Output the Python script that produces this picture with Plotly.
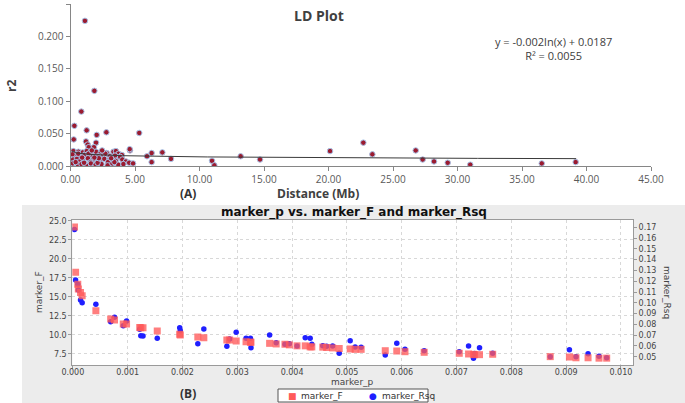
import numpy as np
import plotly.graph_objects as go

W, H = 685, 403

# ---------- Panel A data (LD plot) ----------
dist_mb = [1.12, 1.85, 0.84, 0.30, 0.25, 1.25, 2.03, 2.78, 5.33, 1.20, 1.33, 1.98, 1.82, 1.41,
           4.61, 4.59, 6.29, 7.12, 5.93, 7.79, 6.29, 10.97, 11.15, 13.19, 14.69, 20.12, 22.70,
           23.40, 26.76, 27.30, 28.18, 29.24, 30.99, 36.53, 39.16,
           0.22, 0.61, 0.95, 1.26, 1.52, 1.98, 2.35, 2.81, 3.33, 3.52, 3.72, 3.98,
           0.35, 0.75, 1.10, 1.62, 2.15, 2.55, 3.05, 3.45, 3.85, 0.15, 1.40, 2.70,
           0.20, 0.50, 0.98, 1.35, 1.75, 2.25, 2.62, 3.00, 3.50, 4.02, 4.30, 1.55, 0.70, 2.90,
           0.18, 0.58, 0.85, 1.20, 1.58, 1.95, 2.40, 2.88, 3.25, 3.70, 4.10, 4.55, 4.85, 1.05,
           2.10, 3.40, 0.40, 2.20, 1.85, 0.90, 3.15, 0.60, 2.45, 1.65]
r2 = [0.224, 0.116, 0.084, 0.062, 0.041, 0.055, 0.048, 0.052, 0.051, 0.038, 0.033, 0.036, 0.029, 0.029,
      0.024, 0.026, 0.020, 0.021, 0.015, 0.011, 0.006, 0.008, 0.001, 0.015, 0.010, 0.023, 0.036,
      0.018, 0.024, 0.010, 0.007, 0.005, 0.002, 0.004, 0.006,
      0.023, 0.022, 0.021, 0.023, 0.020, 0.022, 0.021, 0.020, 0.022, 0.023, 0.019, 0.017,
      0.016, 0.015, 0.017, 0.016, 0.015, 0.017, 0.015, 0.016, 0.014, 0.018, 0.019, 0.019,
      0.010, 0.011, 0.009, 0.012, 0.010, 0.008, 0.011, 0.009, 0.008, 0.010, 0.007, 0.006, 0.007, 0.006,
      0.004, 0.002, 0.003, 0.001, 0.004, 0.002, 0.003, 0.001, 0.004, 0.002, 0.003, 0.005, 0.004, 0.005,
      0.005, 0.006, 0.006, 0.012, 0.013, 0.013, 0.012, 0.019, 0.024, 0.024]
trend_a, trend_b = -0.002, 0.0187
trend_range = [0.12, 39.2]
x_ticks_a = [0, 45, 5]
y_ticks_a = [0, 0.25, 0.05]

# ---------- Panel B data ----------
marker_p = [0.00003, 0.00005, 0.00009, 0.00010, 0.00014, 0.00017, 0.00042, 0.00069, 0.00076, 0.00092,
            0.00098, 0.00122, 0.00124, 0.00128, 0.00154, 0.00195, 0.00196, 0.00228, 0.00239, 0.00281,
            0.00286, 0.00298, 0.00316, 0.00324, 0.00325, 0.00359, 0.00371, 0.00387, 0.00395, 0.00409,
            0.00424, 0.00433, 0.00436, 0.00456, 0.00463, 0.00474, 0.00486, 0.00506, 0.00515, 0.00526,
            0.00570, 0.00591, 0.00606, 0.00641, 0.00705, 0.00722, 0.00731, 0.00733, 0.00742, 0.00766,
            0.00871, 0.00906, 0.00918, 0.00940, 0.00960, 0.00974]
marker_F = [24.2, 18.25, 16.67, 16.05, 15.6, 15.17, 13.2, 12.1, 11.97, 11.45,
            11.45, 11.0, 10.95, 10.96, 10.53, 10.1, 10.0, 9.72, 9.65, 9.34,
            9.34, 9.22, 9.12, 9.04, 9.05, 8.9, 8.82, 8.78, 8.7, 8.57,
            8.57, 8.43, 8.43, 8.4, 8.35, 8.3, 8.22, 8.16, 8.11, 8.11,
            7.93, 7.89, 7.8, 7.72, 7.59, 7.5, 7.45, 7.41, 7.41, 7.46,
            7.15, 7.1, 7.0, 7.0, 6.95, 6.95]
marker_Rsq = [0.168, 0.1212, 0.1172, 0.1119, 0.1026, 0.1001, 0.0986, 0.0825, 0.0866, 0.0788,
              0.0831, 0.0754, 0.0695, 0.0692, 0.0671, 0.0769, 0.0741, 0.0621, 0.0757, 0.0596,
              0.0664, 0.0727, 0.0671, 0.0671, 0.0584, 0.0701, 0.0630, 0.0615, 0.0621, 0.0600,
              0.0676, 0.0671, 0.0615, 0.0602, 0.0598, 0.0599, 0.0532, 0.0649, 0.0590, 0.0588,
              0.0516, 0.0624, 0.0568, 0.0556, 0.0546, 0.0599, 0.0485, 0.0530, 0.0584, 0.0532,
              0.0500, 0.0565, 0.0500, 0.0528, 0.0504, 0.0490]

F_COLOR = "rgba(255,90,90,0.78)"
RSQ_COLOR = "#1f1fff"

# ---------- layout helpers ----------
def px_x(v):
    return v / W

def px_y(v):
    return 1 - v / H

A_x = [px_x(70.5), px_x(651)]
A_y = [px_y(166), px_y(4)]
B_x = [px_x(72.3), px_x(633)]
B_y = [px_y(365), px_y(220)]

fig = go.Figure()

fig.add_trace(go.Scatter(
    x=dist_mb, y=r2, mode="markers", xaxis="x", yaxis="y", showlegend=False,
    marker=dict(size=5.5, color="#9b1b30", line=dict(color="#a9c4e8", width=1)),
))
tx = np.linspace(trend_range[0], trend_range[1], 400)
fig.add_trace(go.Scatter(
    x=tx, y=trend_a * np.log(tx) + trend_b, mode="lines", xaxis="x", yaxis="y",
    showlegend=False, line=dict(color="#3a3a3a", width=1),
))

fig.add_trace(go.Scatter(
    x=marker_p, y=marker_Rsq, mode="markers", name="marker_Rsq", xaxis="x2", yaxis="y2",
    showlegend=False, marker=dict(symbol="circle", size=5.5, color=RSQ_COLOR),
))
fig.add_trace(go.Scatter(
    x=marker_p, y=marker_F, mode="markers", name="marker_F", xaxis="x2", yaxis="y3",
    showlegend=False, marker=dict(symbol="square", size=7, color=F_COLOR),
))

tickfA = dict(family="Open Sans", size=10, color="#595959")
tickfB = dict(family="DejaVu Sans", size=8, color="#444444")

fig.update_layout(
    width=W, height=H,
    margin=dict(l=0, r=0, t=0, b=0, autoexpand=False),
    paper_bgcolor="white", plot_bgcolor="white",
    showlegend=False,
    xaxis=dict(domain=A_x, anchor="y", range=[x_ticks_a[0], x_ticks_a[1]], dtick=x_ticks_a[2],
               tick0=0, tickformat=".2f", showgrid=False, zeroline=False, showline=True,
               linecolor="#868686", linewidth=1, ticks="outside", ticklen=4, tickcolor="#868686",
               tickfont=tickfA, automargin=False),
    yaxis=dict(domain=A_y, anchor="x", range=[y_ticks_a[0], y_ticks_a[1]], dtick=y_ticks_a[2],
               tick0=0, tickformat=".3f", showgrid=False, zeroline=False, showline=True,
               linecolor="#868686", linewidth=1, ticks="outside", ticklen=4, tickcolor="#868686",
               tickfont=tickfA, automargin=False),
    xaxis2=dict(domain=B_x, anchor="y2", range=[-0.00001, 0.01022], dtick=0.001, tick0=0,
                tickformat=".3f", showgrid=True, gridcolor="#d8d8d8", griddash="dot", gridwidth=1,
                zeroline=False, showline=True, mirror=True, linecolor="#9a9a9a", linewidth=1,
                ticks="outside", ticklen=3, tickcolor="#9a9a9a", tickfont=tickfB, automargin=False,
                ticklabelstandoff=-4),
    yaxis2=dict(domain=B_y, anchor="x2", side="right", range=[0.0423, 0.1768], dtick=0.01,
                tick0=0, tickformat=".2f", showgrid=False, zeroline=False, showline=True,
                linecolor="#9a9a9a", linewidth=1, ticks="outside", ticklen=3, tickcolor="#9a9a9a",
                tickfont=tickfB, automargin=False),
    yaxis3=dict(overlaying="y2", anchor="x2", side="left", range=[6.05, 25.13], dtick=2.5,
                tick0=0, tickformat=".1f", showgrid=True, gridcolor="#d8d8d8", griddash="dot",
                zeroline=False, showline=True, linecolor="#9a9a9a", linewidth=1,
                ticks="outside", ticklen=3, tickcolor="#9a9a9a", tickfont=tickfB, automargin=False),
    shapes=[
        dict(type="rect", xref="paper", yref="paper", x0=px_x(22), x1=1, y0=0, y1=px_y(205),
             fillcolor="#ececec", line=dict(width=0), layer="below"),
        dict(type="rect", xref="paper", yref="paper", x0=B_x[0], x1=B_x[1], y0=B_y[0], y1=B_y[1],
             fillcolor="white", line=dict(width=0), layer="below"),
        # legend box for panel B
        dict(type="rect", xref="paper", yref="paper", x0=px_x(278), x1=px_x(428),
             y0=px_y(402), y1=px_y(389), fillcolor="white",
             line=dict(color="#555555", width=1), layer="above"),
    ],
)

ann = []
def add_text(text, x, y, size, bold=False, family="Open Sans", color="#404040", angle=0):
    ann.append(dict(text=("<b>%s</b>" % text) if bold else text, x=px_x(x), y=px_y(y),
                    xref="paper", yref="paper", showarrow=False, xanchor="center",
                    yanchor="middle", textangle=angle,
                    font=dict(family=family, size=size, color=color)))

add_text("LD Plot", 319, 15, 14, bold=True, color="#404040")
add_text("y = -0.002ln(x) + 0.0187<br>R² = 0.0055", 553, 48, 11, color="#404040")
add_text("r2", 11, 86, 12, bold=True, color="#404040", angle=-90)
add_text("Distance (Mb)", 318, 193, 12, bold=True, color="#404040")
add_text("(A)", 188, 193, 12, bold=True, color="#333333")
add_text("marker_p vs. marker_F and marker_Rsq", 354, 212, 12, bold=True,
         family="DejaVu Sans", color="#111111")
add_text("marker_F", 39, 292, 9, family="DejaVu Sans", color="#444444", angle=-90)
add_text("marker_Rsq", 667, 292, 9, family="DejaVu Sans", color="#444444", angle=90)
add_text("marker_p", 352, 382, 9, family="DejaVu Sans", color="#444444")
add_text("(B)", 188, 393, 12, bold=True, color="#333333")
legend_items = [("marker_F", "■", "rgb(255,90,90)", 292, 322), ("marker_Rsq", "●", RSQ_COLOR, 373, 408)]
for name, glyph, col, gx, tx_ in legend_items:
    ann.append(dict(text=glyph, x=px_x(gx), y=px_y(395.5), xref="paper", yref="paper",
                    showarrow=False, xanchor="center", yanchor="middle",
                    font=dict(family="DejaVu Sans", size=9, color=col)))
    ann.append(dict(text=name, x=px_x(tx_), y=px_y(395.5), xref="paper", yref="paper",
                    showarrow=False, xanchor="center", yanchor="middle",
                    font=dict(family="DejaVu Sans", size=9, color="#333333")))
fig.update_layout(annotations=ann)

fig.write_html("out.html", config={"displayModeBar": False},
               post_script="document.body.style.margin='0';document.body.style.padding='0';"
                           "document.documentElement.style.overflow='hidden';")
